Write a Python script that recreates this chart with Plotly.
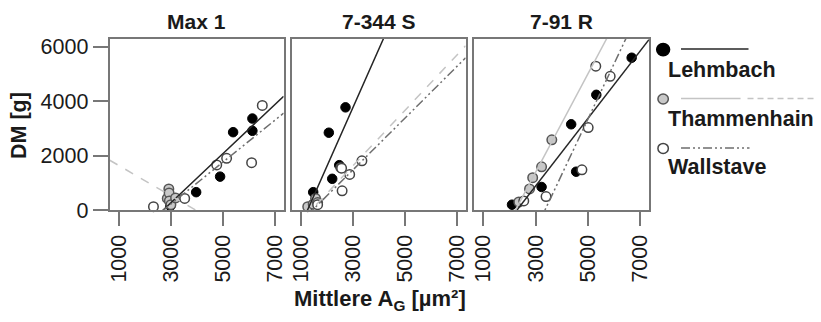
import numpy as np
import plotly.graph_objects as go

W, H = 821, 322

# ---------------- data ----------------
panel_titles = ["Max 1", "7-344 S", "7-91 R"]
series_names = ["Lehmbach", "Thammenhain", "Wallstave"]
x_tick_vals = [1000, 3000, 5000, 7000]
y_tick_vals = [0, 2000, 4000, 6000]

# Panel "Max 1"
max1_lehmbach_x = [2980, 3970, 4890, 5390, 6130, 6130]
max1_lehmbach_y = [150, 660, 1230, 2860, 2910, 3360]
max1_thammenhain_x = [2860, 2920, 2930, 2940, 3000, 3180]
max1_thammenhain_y = [430, 780, 630, 340, 200, 450]
max1_wallstave_x = [2330, 3530, 4760, 5140, 6100, 6510]
max1_wallstave_y = [130, 430, 1660, 1900, 1740, 3840]
# fitted lines: slope, intercept
max1_fit = {"Lehmbach": (0.902, -2435), "Thammenhain": (-0.554, 2191), "Wallstave": (0.77, -2087)}

# Panel "7-344 S"
s344_lehmbach_x = [1480, 2080, 2210, 2480, 2720]
s344_lehmbach_y = [660, 2840, 1150, 1650, 3770]
s344_thammenhain_x = [1270, 1480, 1570, 1650, 2540]
s344_thammenhain_y = [130, 220, 430, 280, 1560]
s344_wallstave_x = [1650, 2570, 2590, 2880, 3350]
s344_wallstave_y = [200, 1540, 710, 1310, 1810]
s344_fit = {"Lehmbach": (2.156, -2717), "Thammenhain": (1.017, -1427), "Wallstave": (0.95, -1378)}

# Panel "7-91 R"
r91_lehmbach_x = [2100, 3230, 4360, 4550, 5320, 6670]
r91_lehmbach_y = [200, 850, 3150, 1410, 4230, 5590]
r91_thammenhain_x = [2360, 2770, 2890, 3230, 3620]
r91_thammenhain_y = [300, 780, 1190, 1590, 2580]
r91_wallstave_x = [2550, 3400, 4770, 5010, 5300, 5850]
r91_wallstave_y = [340, 500, 1480, 3030, 5280, 4910]
r91_fit = {"Lehmbach": (1.24, -2836), "Thammenhain": (1.806, -4031), "Wallstave": (2.034, -6830)}

panel_data = [
    {"Lehmbach": (max1_lehmbach_x, max1_lehmbach_y),
     "Thammenhain": (max1_thammenhain_x, max1_thammenhain_y),
     "Wallstave": (max1_wallstave_x, max1_wallstave_y)},
    {"Lehmbach": (s344_lehmbach_x, s344_lehmbach_y),
     "Thammenhain": (s344_thammenhain_x, s344_thammenhain_y),
     "Wallstave": (s344_wallstave_x, s344_wallstave_y)},
    {"Lehmbach": (r91_lehmbach_x, r91_lehmbach_y),
     "Thammenhain": (r91_thammenhain_x, r91_thammenhain_y),
     "Wallstave": (r91_wallstave_x, r91_wallstave_y)},
]
panel_fits = [max1_fit, s344_fit, r91_fit]

# ---------------- styles ----------------
X_RANGE = [650, 7330]
Y_RANGE = [0, 6290]
FONT = "Liberation Sans, Arial, sans-serif"
TXT = "#1a1a1a"
AXC = "#777777"
DDOT = "9px,3px,2px,3px,2px,3px"

marker_style = {
    "Lehmbach": dict(color="#000000", line=dict(color="#000000", width=1)),
    "Thammenhain": dict(color="#c8c8c8", line=dict(color="#555555", width=1.5)),
    "Wallstave": dict(color="#ffffff", line=dict(color="#444444", width=1.5)),
}
line_color = {"Lehmbach": "#262626", "Thammenhain": "#c4c4c4", "Wallstave": "#6e6e6e"}
line_dash = [
    {"Lehmbach": "solid", "Thammenhain": "dash", "Wallstave": DDOT},
    {"Lehmbach": "solid", "Thammenhain": "dash", "Wallstave": DDOT},
    {"Lehmbach": "solid", "Thammenhain": "solid", "Wallstave": DDOT},
]

# pixel domains
x_dom_px = [(107.5, 282.7), (290.7, 466.0), (474.5, 650.7)]
y_dom_px = (37.5, 218.0)


def px_x(p):
    return p / W


def px_y(p):
    return 1 - p / H


fig = go.Figure()

for i in range(3):
    sfx = "" if i == 0 else str(i + 1)
    xa, ya = "x" + sfx, "y" + sfx
    for s in series_names:
        xs, ys = panel_data[i][s]
        fig.add_trace(go.Scatter(
            x=xs, y=ys, mode="markers", xaxis=xa, yaxis=ya, showlegend=False,
            cliponaxis=False, name=s,
            marker=dict(size=9.5, symbol="circle", **marker_style[s])))
    for s in series_names:
        slope, icpt = panel_fits[i][s]
        lx = np.linspace(X_RANGE[0], X_RANGE[1], 200)
        ly = slope * lx + icpt
        fig.add_trace(go.Scatter(
            x=lx, y=ly, mode="lines", xaxis=xa, yaxis=ya, showlegend=False,
            name=s, hoverinfo="skip",
            line=dict(color=line_color[s], width=1.5, dash=line_dash[i][s])))

layout = dict(
    width=W, height=H, margin=dict(l=0, r=0, t=0, b=0),
    paper_bgcolor="white", plot_bgcolor="white",
    font=dict(family=FONT, color=TXT, size=21),
    showlegend=False,
)

TICK_SIZE = 21.5
for i in range(3):
    sfx = "" if i == 0 else str(i + 1)
    ydom = [px_y(y_dom_px[1]), px_y(y_dom_px[0])]
    xdom = [px_x(x_dom_px[i][0]), px_x(x_dom_px[i][1])]
    layout["xaxis" + sfx] = dict(
        domain=xdom, range=X_RANGE, anchor="y" + sfx,
        tickvals=x_tick_vals, ticktext=[str(v) for v in x_tick_vals],
        ticks="outside", ticklen=14, tickwidth=2, tickcolor=AXC,
        tickangle=-90, tickfont=dict(size=TICK_SIZE, color=TXT, family=FONT),
        showline=True, mirror=True, linecolor=AXC, linewidth=2,
        showgrid=False, zeroline=False, fixedrange=True)
    layout["yaxis" + sfx] = dict(
        domain=ydom, range=Y_RANGE, anchor="x" + sfx,
        tickvals=y_tick_vals, ticktext=[str(v) for v in y_tick_vals],
        ticks="outside" if i == 0 else "", ticklen=15, tickwidth=2, tickcolor=AXC,
        showticklabels=(i == 0), tickfont=dict(size=TICK_SIZE, color=TXT, family=FONT),
        showline=True, mirror=True, linecolor=AXC, linewidth=2,
        showgrid=False, zeroline=False, fixedrange=True)

annotations = []
shapes = []

# panel titles
for i, t in enumerate(panel_titles):
    cx = (x_dom_px[i][0] + x_dom_px[i][1]) / 2
    annotations.append(dict(
        text="<b>%s</b>" % t, x=px_x(cx), y=px_y(19), xref="paper", yref="paper",
        xanchor="center", yanchor="middle", showarrow=False,
        font=dict(size=21, color=TXT, family=FONT)))

# axis titles
annotations.append(dict(
    text="<b>Mittlere A<sub>G</sub> [µm²]</b>", x=px_x(380), y=px_y(313),
    xref="paper", yref="paper", xanchor="center", yanchor="middle", showarrow=False,
    font=dict(size=22, color=TXT, family=FONT)))
annotations.append(dict(
    text="<b>DM [g]</b>", x=px_x(15.5), y=px_y(129), textangle=-90,
    xref="paper", yref="paper", xanchor="center", yanchor="middle", showarrow=False,
    font=dict(size=21.5, color=TXT, family=FONT)))

# custom legend
legend_rows = [("Lehmbach", 49, 70.5, 13), ("Thammenhain", 101, 122, 10.5), ("Wallstave", 153, 173, 10.5)]
for s, ym, yt, d in legend_rows:
    cx = 665
    st = marker_style[s]
    shapes.append(dict(
        type="circle", xref="paper", yref="paper",
        x0=px_x(cx - d / 2), x1=px_x(cx + d / 2), y0=px_y(ym + d / 2), y1=px_y(ym - d / 2),
        fillcolor=st["color"], line=dict(color=st["line"]["color"], width=1.5)))
    annotations.append(dict(
        text="<b>%s</b>" % s, x=px_x(668), y=px_y(yt), xref="paper", yref="paper",
        xanchor="left", yanchor="middle", showarrow=False,
        font=dict(size=21.5, color=TXT, family=FONT)))

# legend line samples
shapes.append(dict(type="line", xref="paper", yref="paper",
                   x0=px_x(683), x1=px_x(751), y0=px_y(48.5), y1=px_y(48.5),
                   line=dict(color=line_color["Lehmbach"], width=1.5)))
shapes.append(dict(type="line", xref="paper", yref="paper",
                   x0=px_x(683), x1=px_x(743), y0=px_y(100.5), y1=px_y(100.5),
                   line=dict(color=line_color["Thammenhain"], width=1.5)))
shapes.append(dict(type="line", xref="paper", yref="paper",
                   x0=px_x(750), x1=px_x(820), y0=px_y(100.5), y1=px_y(100.5),
                   line=dict(color=line_color["Thammenhain"], width=1.5, dash="6px,4px")))
shapes.append(dict(type="line", xref="paper", yref="paper",
                   x0=px_x(683), x1=px_x(752), y0=px_y(152.5), y1=px_y(152.5),
                   line=dict(color=line_color["Wallstave"], width=1.5, dash=DDOT)))

layout["annotations"] = annotations
layout["shapes"] = shapes
fig.update_layout(**layout)

fig.write_html("out.html", config={"displayModeBar": False},
               post_script="document.body.style.margin='0';")
